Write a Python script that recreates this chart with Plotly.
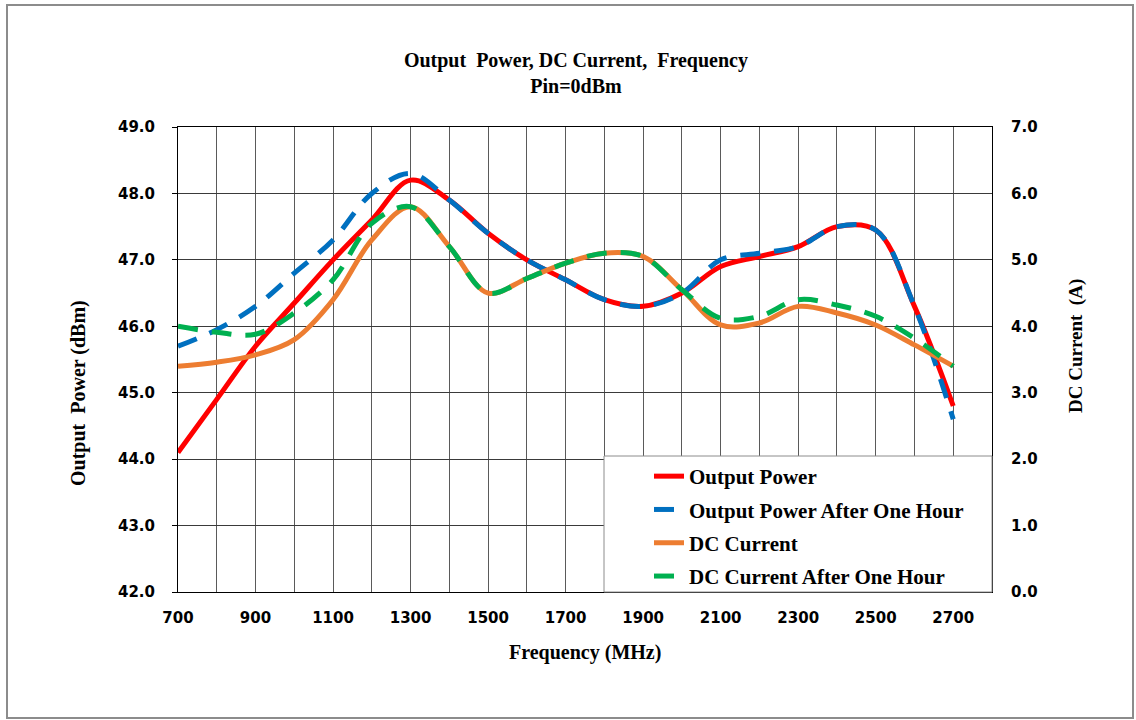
"""
Output power and DC current against frequency, Pin = 0 dBm.
Left axis: output power (dBm); right axis: DC current (A).
"""

import plotly.graph_objects as go

freq_mhz = [700, 800, 900, 1000, 1100, 1200, 1300, 1400, 1500, 1600, 1700,
            1800, 1900, 2000, 2100, 2200, 2300, 2400, 2500, 2600, 2700]

output_power = [44.1, 44.9, 45.7, 46.35, 47.0, 47.6, 48.2, 47.9, 47.4, 47.0, 46.7,
                46.4, 46.3, 46.5, 46.9, 47.05, 47.2, 47.5, 47.45, 46.3, 44.8]
output_power_1h = [45.7, 45.95, 46.3, 46.8, 47.3, 48.0, 48.3, 47.9, 47.4, 47.0, 46.7,
                   46.4, 46.3, 46.5, 47.0, 47.1, 47.2, 47.5, 47.45, 46.3, 44.6]

dc_current = [3.4, 3.46, 3.57, 3.8, 4.4, 5.3, 5.8, 5.2, 4.5, 4.72, 4.95,
              5.1, 5.05, 4.55, 4.02, 4.05, 4.3, 4.2, 4.02, 3.72, 3.4]
dc_current_1h = [4.0, 3.91, 3.88, 4.2, 4.7, 5.55, 5.8, 5.2, 4.5, 4.72, 4.95,
                 5.1, 5.05, 4.55, 4.12, 4.15, 4.4, 4.32, 4.15, 3.82, 3.4]

SERIF = "Liberation Serif"
SANS = "DejaVu Sans"

# plot area in page pixels: x 178..992, y 127..592
L, R, T, B = 178, 992, 127, 592
W, H = R - L, B - T


def px_x(x):
    return (x - L) / W


def px_y(y):
    return (B - y) / H


fig = go.Figure()

series = [
    ("Output Power", output_power, "y", "#FF0000", "solid"),
    ("Output Power After One Hour", output_power_1h, "y", "#0070C0", "20px,14px"),
    ("DC Current", dc_current, "y2", "#ED7D31", "solid"),
    ("DC Current After One Hour", dc_current_1h, "y2", "#00B050", "20px,14px"),
]

for name, values, axis, color, dash in series:
    fig.add_trace(go.Scatter(
        x=freq_mhz,
        y=values,
        yaxis=axis,
        name=name,
        legendgroup=name,
        mode="lines",
        line=dict(color=color, width=5, dash=dash, shape="spline", smoothing=1.0),
    ))

# grey frame around the whole chart (Excel chart border)
fig.add_shape(
    type="rect", xref="paper", yref="paper",
    x0=px_x(7), x1=px_x(1133), y0=px_y(718), y1=px_y(5),
    line=dict(color="#8c8c8c", width=2), layer="below",
)
# legend box (white, hides the grid behind it)
fig.add_shape(
    type="rect", xref="paper", yref="paper",
    x0=px_x(604), x1=px_x(992), y0=px_y(592), y1=px_y(456),
    fillcolor="white", line=dict(color="#8c8c8c", width=1), layer="above",
)

tick_font = dict(family=SANS, size=15, color="black", weight="bold")

fig.update_layout(
    width=1136,
    height=720,
    paper_bgcolor="white",
    plot_bgcolor="white",
    margin=dict(l=L, r=1136 - R, t=T, b=720 - B),
    title=dict(
        text="Output  Power, DC Current,  Frequency<br>Pin=0dBm",
        x=0.507, xanchor="center", y=0.907, yanchor="middle",
        font=dict(family=SERIF, size=20, color="black", weight="bold"),
    ),
    xaxis=dict(
        range=[700, 2800],
        tick0=700, dtick=200,
        tickformat="d",
        showgrid=True, gridcolor="#5a5a5a", gridwidth=1,
        minor=dict(tick0=700, dtick=100, showgrid=True, gridcolor="#5a5a5a", gridwidth=1),
        showline=True, linecolor="black", linewidth=1, mirror=True,
        ticks="", ticklabelstandoff=12,
        tickfont=tick_font,
        zeroline=False,
    ),
    yaxis=dict(
        range=[42, 49], dtick=1, tickformat=".1f",
        showgrid=True, gridcolor="#3a3a3a", gridwidth=1,
        showline=True, linecolor="black", linewidth=1, mirror=True,
        ticks="outside", ticklen=5, tickcolor="black", ticklabelstandoff=14,
        tickfont=tick_font,
        zeroline=False,
    ),
    yaxis2=dict(
        range=[0, 7], dtick=1, tickformat=".1f",
        overlaying="y", side="right",
        showgrid=False, showline=False, zeroline=False,
        ticks="", ticklabelstandoff=18,
        tickfont=tick_font,
    ),
    legend=dict(
        x=px_x(649), xanchor="left",
        y=px_y(597), yanchor="bottom",
        bgcolor="rgba(0,0,0,0)", borderwidth=0,
        font=dict(family=SERIF, size=21, color="black", weight="bold"),
        tracegroupgap=3,
        traceorder="grouped",
    ),
    annotations=[
        dict(text="Frequency (MHz)", xref="paper", yref="paper",
             x=0.5, y=px_y(652),
             xanchor="center", yanchor="middle", showarrow=False,
             font=dict(family=SERIF, size=20, color="black", weight="bold")),
        dict(text="Output  Power (dBm)", xref="paper", yref="paper",
             x=px_x(78), y=px_y(393), textangle=-90,
             xanchor="center", yanchor="middle", showarrow=False,
             font=dict(family=SERIF, size=20, color="black", weight="bold")),
        dict(text="DC Current  (A)", xref="paper", yref="paper",
             x=px_x(1076), y=px_y(346), textangle=-90,
             xanchor="center", yanchor="middle", showarrow=False,
             font=dict(family=SERIF, size=19, color="black", weight="bold")),
    ],
)

fig.write_html(
    "out.html",
    config={"displayModeBar": False},
    post_script="document.body.style.margin='0';",
)
